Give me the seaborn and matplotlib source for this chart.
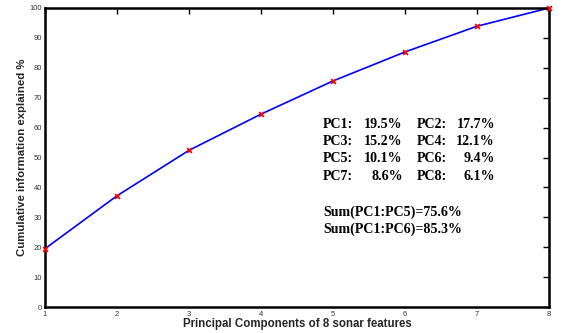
import matplotlib
matplotlib.use("Agg")
import matplotlib.pyplot as plt
import seaborn as sns
import pandas as pd

components = [1, 2, 3, 4, 5, 6, 7, 8]
cumulative = [19.5, 37.2, 52.4, 64.5, 75.6, 85.3, 93.9, 100.0]
pc_names = ["PC1", "PC2", "PC3", "PC4", "PC5", "PC6", "PC7", "PC8"]
pc_values = [19.5, 17.7, 15.2, 12.1, 10.1, 9.4, 8.6, 6.1]
sum_lines = ["Sum(PC1:PC5)=75.6%", "Sum(PC1:PC6)=85.3%"]
xticks = [1, 2, 3, 4, 5, 6, 7, 8]
yticks = [0, 10, 20, 30, 40, 50, 60, 70, 80, 90, 100]

sns.set_style("white")
plt.rcParams['font.family'] = ['Liberation Sans', 'DejaVu Sans']

df = pd.DataFrame({"pc": components, "cum": cumulative})

fig = plt.figure(figsize=(5.72, 3.33), dpi=100)
ax = fig.add_axes([45/572, 1-307/333, (549-45)/572, (307-8)/333])

sns.lineplot(data=df, x="pc", y="cum", ax=ax, color="#0000ff", linewidth=1.2, zorder=2)
sns.scatterplot(data=df, x="pc", y="cum", ax=ax, color="red", marker="x", s=12,
                linewidth=1.3, zorder=3, clip_on=False)

ax.set_xlim(1, 8)
ax.set_ylim(0, 100)
ax.set_xticks(xticks)
ax.set_yticks(yticks)
ax.tick_params(axis="both", direction="in", length=4, width=1, labelsize=5.5,
               colors="black", labelcolor="#333333", top=True, right=True, pad=2)
ax.tick_params(axis="x", pad=3)
for s in ax.spines.values():
    s.set_linewidth(1.8)
    s.set_color("black")

ax.set_xlabel("Principal Components of 8 sonar features", fontsize=8.3, fontweight="bold", labelpad=0)
ax.set_ylabel("Cumulative information explained %", fontsize=8.2, fontweight="bold", labelpad=2)

serif = dict(family=["Liberation Serif", "DejaVu Serif"], fontweight="bold", fontsize=10.1, color="black")
row_y = [60.9, 55.2, 49.5, 43.5]
for r in range(4):
    i1, i2 = 2*r, 2*r+1
    ax.text(4.86, row_y[r], pc_names[i1] + ":", ha="left", va="center", **serif)
    ax.text(5.97, row_y[r], f"{pc_values[i1]:.1f}%", ha="right", va="center", **serif)
    ax.text(6.16, row_y[r], pc_names[i2] + ":", ha="left", va="center", **serif)
    ax.text(7.25, row_y[r], f"{pc_values[i2]:.1f}%", ha="right", va="center", **serif)
ax.text(4.86, 31.6, sum_lines[0], ha="left", va="center", **serif)
ax.text(4.86, 26.0, sum_lines[1], ha="left", va="center", **serif)

fig.savefig("out.png", dpi=100)
